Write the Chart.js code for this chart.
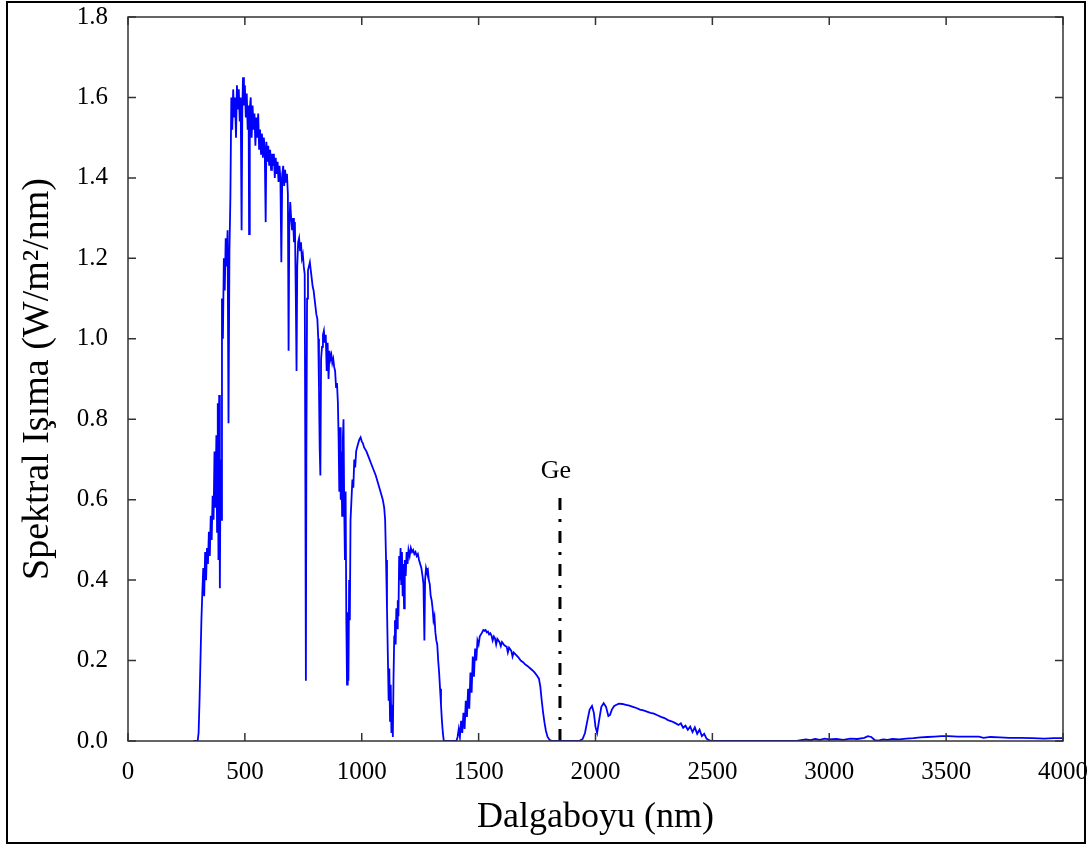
<!DOCTYPE html>
<html>
<head>
<meta charset="utf-8">
<script src="https://cdn.jsdelivr.net/npm/chart.js@4.4.1/dist/chart.umd.min.js"></script>
<style>
  html, body { margin: 0; padding: 0; background: #fff; }
  #wrap { position: relative; width: 1089px; height: 845px; }
  #frame { position: absolute; left: 6px; top: 1px; width: 1080px; height: 843px; border: 2px solid #000; box-sizing: border-box; pointer-events: none; }
  canvas { position: absolute; left: 0; top: 0; }
</style>
</head>
<body>
<div id="wrap">
  <canvas id="chart" width="1089" height="845"></canvas>
  <div id="frame"></div>
</div>
<script>
// AM1.5 style spectrum: [wavelength nm, W/m2/nm]
const spectrum = [
  [280,0],[298,0],[302,0.02],[306,0.1],[310,0.2],[314,0.3],[318,0.37],[322,0.43],[326,0.36],[330,0.47],
  [334,0.4],[338,0.48],[342,0.44],[346,0.52],[350,0.46],[354,0.56],[358,0.5],[362,0.61],[366,0.55],[370,0.72],
  [374,0.58],[378,0.76],[381,0.52],[384,0.84],[387,0.45],[390,0.86],[393,0.38],[396,0.7],[399,0.55],[402,1.1],
  [406,1.0],[410,1.2],[414,1.12],[418,1.25],[422,1.18],[426,1.27],[430,0.79],[434,1.22],[438,1.35],[442,1.6],
  [446,1.52],[450,1.62],[454,1.55],[458,1.6],[462,1.5],[466,1.63],[470,1.57],[474,1.62],[478,1.54],[482,1.6],
  [486,1.27],[489,1.57],[492,1.65],[496,1.58],[500,1.63],[504,1.55],[508,1.61],[512,1.52],[516,1.58],[518,1.26],
  [521,1.57],[525,1.6],[529,1.5],[533,1.58],[537,1.52],[541,1.56],[545,1.48],[549,1.55],[553,1.5],[557,1.56],
  [561,1.47],[565,1.52],[569,1.46],[573,1.51],[577,1.45],[581,1.5],[585,1.47],[589,1.29],[592,1.49],[596,1.44],
  [600,1.48],[604,1.43],[608,1.47],[612,1.42],[616,1.46],[620,1.43],[624,1.46],[628,1.4],[632,1.45],[636,1.41],
  [640,1.44],[644,1.39],[648,1.43],[652,1.4],[656,1.19],[660,1.41],[664,1.43],[668,1.38],[672,1.42],[676,1.39],
  [680,1.41],[684,1.36],[687,0.97],[690,1.28],[694,1.34],[698,1.3],[702,1.27],[706,1.3],[710,1.24],[714,1.29],
  [718,1.1],[721,0.92],[724,1.18],[728,1.24],[732,1.25],[736,1.22],[740,1.24],[744,1.2],[748,1.21],[752,1.18],
  [756,1.16],[759,0.6],[761,0.15],[763,0.7],[766,1.1],[770,1.17],[774,1.18],[778,1.19],[782,1.17],[786,1.15],
  [790,1.13],[794,1.12],[798,1.1],[802,1.08],[806,1.06],[810,1.05],[814,1.0],[817,0.88],[820,0.73],[823,0.66],
  [826,0.95],[830,0.98],[834,1.01],[838,1.02],[842,0.99],[846,1.01],[850,0.92],[854,0.99],[858,0.9],[862,0.97],
  [866,0.95],[870,0.96],[874,0.94],[878,0.95],[882,0.93],[886,0.92],[890,0.88],[894,0.89],[898,0.84],[901,0.75],
  [904,0.62],[907,0.78],[910,0.6],[913,0.72],[916,0.56],[919,0.75],[922,0.8],[925,0.58],[928,0.45],[931,0.62],
  [934,0.3],[937,0.14],[940,0.32],[943,0.15],[946,0.4],[949,0.3],[952,0.55],[956,0.6],[960,0.65],[964,0.63],
  [968,0.7],[972,0.68],[976,0.72],[980,0.73],[985,0.74],[990,0.75],[995,0.755],[1000,0.745],[1005,0.74],[1010,0.73],
  [1020,0.72],[1030,0.705],[1040,0.69],[1050,0.675],[1060,0.66],[1070,0.64],[1080,0.62],[1090,0.6],[1096,0.58],[1100,0.55],
  [1104,0.45],[1108,0.33],[1112,0.2],[1115,0.1],[1118,0.18],[1121,0.05],[1124,0.14],[1127,0.02],[1130,0.09],[1133,0.01],
  [1136,0.16],[1139,0.26],[1142,0.3],[1145,0.24],[1148,0.33],[1151,0.28],[1154,0.35],[1157,0.31],[1160,0.46],[1163,0.4],
  [1166,0.48],[1169,0.39],[1172,0.47],[1175,0.36],[1178,0.44],[1181,0.33],[1184,0.45],[1188,0.41],[1192,0.47],[1196,0.44],
  [1200,0.475],[1205,0.46],[1210,0.48],[1215,0.47],[1220,0.475],[1225,0.465],[1230,0.47],[1235,0.46],[1240,0.465],[1245,0.45],
  [1250,0.44],[1255,0.43],[1260,0.41],[1264,0.39],[1268,0.25],[1271,0.4],[1275,0.43],[1279,0.42],[1283,0.425],[1287,0.4],
  [1291,0.39],[1295,0.36],[1299,0.35],[1303,0.33],[1307,0.3],[1311,0.31],[1315,0.27],[1319,0.25],[1323,0.24],[1327,0.2],
  [1331,0.17],[1335,0.13],[1339,0.09],[1343,0.05],[1347,0.02],[1351,0],[1405,0],[1410,0.01],[1415,0.03],[1420,0.01],
  [1425,0.05],[1430,0.02],[1435,0.07],[1440,0.03],[1445,0.1],[1450,0.06],[1455,0.13],[1460,0.08],[1465,0.17],[1470,0.12],
  [1475,0.21],[1480,0.16],[1485,0.23],[1490,0.2],[1495,0.25],[1500,0.24],[1505,0.26],[1510,0.265],[1515,0.27],[1520,0.276],
  [1525,0.274],[1530,0.276],[1535,0.27],[1540,0.272],[1545,0.265],[1550,0.268],[1555,0.262],[1560,0.25],[1565,0.26],[1570,0.255],
  [1575,0.24],[1580,0.254],[1585,0.25],[1590,0.245],[1595,0.236],[1600,0.246],[1610,0.238],[1620,0.234],[1625,0.22],[1630,0.232],
  [1640,0.224],[1645,0.21],[1650,0.22],[1660,0.214],[1670,0.208],[1680,0.2],[1690,0.196],[1700,0.19],[1710,0.186],[1720,0.181],
  [1730,0.176],[1740,0.17],[1750,0.162],[1758,0.155],[1764,0.135],[1770,0.1],[1776,0.07],[1782,0.045],[1788,0.025],[1795,0.01],
  [1805,0.002],[1815,0],[1930,0],[1945,0.005],[1955,0.02],[1965,0.05],[1975,0.078],[1985,0.087],[1993,0.07],[2000,0.035],
  [2007,0.02],[2015,0.05],[2025,0.085],[2035,0.094],[2045,0.085],[2055,0.062],[2062,0.065],[2070,0.078],[2080,0.087],[2090,0.09],
  [2100,0.093],[2115,0.092],[2130,0.09],[2145,0.088],[2160,0.085],[2175,0.082],[2190,0.078],[2205,0.076],[2220,0.073],[2235,0.07],
  [2250,0.068],[2265,0.064],[2280,0.06],[2295,0.057],[2310,0.052],[2325,0.049],[2340,0.045],[2355,0.04],[2365,0.044],[2375,0.033],
  [2385,0.038],[2395,0.028],[2405,0.036],[2415,0.022],[2425,0.034],[2435,0.018],[2445,0.028],[2455,0.012],[2465,0.018],[2475,0.006],
  [2485,0.002],[2495,0],[2860,0],[2880,0.002],[2900,0.004],[2920,0.002],[2940,0.005],[2960,0.003],[2980,0.006],[3000,0.004],
  [3030,0.005],[3060,0.003],[3090,0.006],[3120,0.005],[3150,0.008],[3165,0.012],[3180,0.01],[3195,0.002],[3210,0.001],[3230,0.004],
  [3250,0.003],[3270,0.005],[3300,0.004],[3330,0.006],[3360,0.007],[3390,0.009],[3420,0.01],[3450,0.011],[3480,0.012],[3510,0.012],
  [3550,0.011],[3600,0.011],[3640,0.011],[3660,0.008],[3690,0.01],[3730,0.009],[3770,0.008],[3820,0.008],[3870,0.007],[3920,0.006],
  [3960,0.007],[4000,0.007]
];

// Ge band-gap marker
const geWavelength = 1848;
const geLineTop = 0.61;
const geLabel = 'Ge';
const geLabelY = 0.67;

const xTicks = [0, 500, 1000, 1500, 2000, 2500, 3000, 3500, 4000];
const yTicks = [0, 0.2, 0.4, 0.6, 0.8, 1.0, 1.2, 1.4, 1.6, 1.8];

const serif = '"Liberation Serif", "Times New Roman", serif';

// frame + inward ticks on all four sides, and the Ge label
const frameTicks = {
  id: 'frameTicks',
  afterDraw(chart) {
    const { ctx, chartArea: a, scales: { x, y } } = chart;
    const len = 8;
    ctx.save();
    ctx.strokeStyle = '#333';
    ctx.lineWidth = 1.5;
    ctx.strokeRect(a.left, a.top, a.right - a.left, a.bottom - a.top);
    ctx.beginPath();
    xTicks.forEach(v => {
      const px = x.getPixelForValue(v);
      ctx.moveTo(px, a.bottom); ctx.lineTo(px, a.bottom - len);
      ctx.moveTo(px, a.top); ctx.lineTo(px, a.top + len);
    });
    yTicks.forEach(v => {
      const py = y.getPixelForValue(v);
      ctx.moveTo(a.left, py); ctx.lineTo(a.left + len, py);
      ctx.moveTo(a.right, py); ctx.lineTo(a.right - len, py);
    });
    ctx.stroke();

    ctx.fillStyle = '#000';
    ctx.font = '26px ' + serif;
    ctx.textAlign = 'center';
    ctx.textBaseline = 'middle';
    ctx.fillText(geLabel, x.getPixelForValue(geWavelength) - 4, y.getPixelForValue(geLabelY));
    ctx.restore();
  }
};

const ctx = document.getElementById('chart').getContext('2d');

new Chart(ctx, {
  type: 'line',
  data: {
    datasets: [{
      data: spectrum.map(([wl, v]) => ({ x: wl, y: v })),
      borderColor: '#0000ff',
      borderWidth: 1.8,
      pointRadius: 0,
      fill: false,
      tension: 0
    }, {
      data: [{ x: geWavelength, y: 0 }, { x: geWavelength, y: geLineTop }],
      borderColor: '#000',
      borderWidth: 3,
      borderDash: [12, 9, 3, 9],
      pointRadius: 0,
      fill: false
    }]
  },
  options: {
    animation: false,
    responsive: false,
    // plot box: left 128, top 17, right 1063, bottom 741
    layout: { padding: { top: 17, right: 26, bottom: 0, left: 0 } },
    plugins: {
      legend: { display: false },
      tooltip: { enabled: false }
    },
    scales: {
      x: {
        type: 'linear',
        min: 0,
        max: 4000,
        afterBuildTicks: s => { s.ticks = xTicks.map(v => ({ value: v })); },
        afterFit: s => {
          s.height = 104;
          // don't let edge labels push the plot box in
          s.paddingLeft = 0;
          s.paddingRight = 0;
        },
        grid: { display: false, drawTicks: false },
        border: { display: false },
        ticks: {
          padding: 16,
          color: '#000',
          maxRotation: 0,
          autoSkip: false,
          font: { family: serif, size: 25 },
          callback: v => String(v)
        },
        title: {
          display: true,
          text: 'Dalgaboyu (nm)',
          color: '#000',
          font: { family: serif, size: 36 },
          padding: { top: 0, bottom: 6 }
        }
      },
      y: {
        min: 0,
        max: 1.8,
        afterBuildTicks: s => { s.ticks = yTicks.map(v => ({ value: v })); },
        afterFit: s => {
          s.width = 128;
          s.paddingTop = 0;
          s.paddingBottom = 0;
        },
        grid: { display: false, drawTicks: false },
        border: { display: false },
        ticks: {
          padding: 20,
          color: '#000',
          font: { family: serif, size: 25 },
          callback: v => v.toFixed(1)
        },
        title: {
          display: true,
          text: 'Spektral Işıma (W/m²/nm)',
          color: '#000',
          font: { family: serif, size: 38 },
          padding: { top: 15, bottom: 0 }
        }
      }
    }
  },
  plugins: [frameTicks]
});
</script>
</body>
</html>
